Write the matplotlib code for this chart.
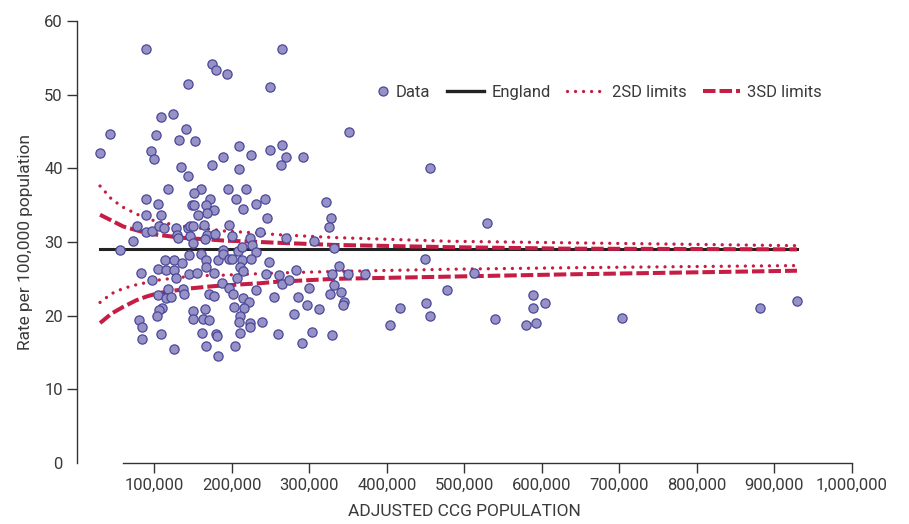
import numpy as np
import matplotlib
matplotlib.use("Agg")
import matplotlib.pyplot as plt
from matplotlib.lines import Line2D
from matplotlib.legend_handler import HandlerLine2D
from matplotlib.ticker import FuncFormatter

plt.rcParams['font.family'] = ['Roboto', 'DejaVu Sans']

# CCG populations (thousands) and rates per 100,000
ccg_pop_k = [
    89, 174, 180, 144, 108.6, 124.5, 140.5, 42.4, 102.6, 131.4, 152.9, 30, 96, 99, 134, 144,
    174.4, 117.6, 89.7, 104.7, 159.8, 150.8, 172.2, 148.6, 150.8, 166.3, 177, 167.6, 89.7,
    108.6, 156.7,
    265, 193.4, 248.8, 209, 189, 224.7, 248.8, 264.7, 269.9, 263.4, 291.4, 209, 195.4, 218.3,
    205.8, 242.8, 231.6, 214.8, 321.9, 245, 328,
    351.5, 455.7, 529.5, 325.3, 331.8, 449, 338.2, 328.8, 350.2, 371.8, 512.4, 331.8, 340.8,
    326.6, 478, 344.7, 343.8, 450, 589, 604, 589, 416.5, 455.6, 540, 404, 579.5, 592, 328.8,
    703, 881, 928.7,
    77.2, 89.3, 96.6, 106, 112.5, 127.6, 128.9, 131, 143, 146, 150.3, 163.7, 167.6, 165.4, 146,
    149.5, 72.9, 55.3, 160.2, 166.3, 166.7, 144.3, 113.8, 125.8, 135.3, 105.1, 115.1, 125.8,
    128, 83.2, 96.6, 144.7, 155.4, 177, 182.5, 118, 105.1, 115.1, 121.5, 137.4, 138.3, 170.9,
    177.4, 109.5, 106.4, 103, 79.8, 83.7, 83.7, 108.2, 149.5, 150.3, 165.4, 163.2, 170.9, 161.1,
    179.2, 180.5, 166.7, 125.4, 182.5,
    196.3, 199.8, 178.3, 223.4, 236.3, 269.9, 306.4, 189, 189, 207.6, 213.5, 226.4, 231.2,
    196.3, 199.8, 213.5, 224.7, 247.9, 210.5, 214.8, 244, 261.2, 282.8, 207, 186.9, 196.3,
    264.3, 274.1, 230.8, 201.1, 299.5, 214, 222.5, 215.7, 203.2, 254, 285.8, 297.4, 312.8,
    210.5, 209.2, 223.4, 223.4, 238.5, 280.6, 210.5, 259.9, 303, 204, 290,
]
ccg_rate = [
    56.2, 54.1, 53.4, 51.4, 47.0, 47.4, 45.3, 44.6, 44.5, 43.8, 43.7, 42.1, 42.4, 41.3, 40.2, 39.0,
    40.5, 37.2, 35.8, 35.2, 37.2, 36.6, 35.8, 35.0, 35.0, 35.0, 34.3, 34.0, 33.7,
    33.6, 33.6,
    56.2, 52.8, 51.0, 43.0, 41.5, 41.8, 42.5, 43.2, 41.5, 40.5, 41.5, 39.9, 37.2, 37.2,
    35.8, 35.9, 35.2, 34.5, 35.4, 33.2, 33.2,
    45.0, 40.1, 32.6, 32.0, 29.2, 27.7, 26.8, 25.7, 25.7, 25.7, 25.8, 24.1, 23.2,
    23.0, 23.5, 21.9, 21.4, 21.7, 22.8, 21.7, 21.0, 21.0, 20.0, 19.6, 18.7, 18.7, 19.0, 17.4,
    19.7, 21.0, 22.0,
    32.2, 31.4, 31.5, 32.2, 31.9, 31.9, 31.0, 30.5, 31.9, 32.2, 32.2, 32.3, 30.9, 30.4, 30.8,
    29.9, 30.2, 28.9, 28.4, 27.5, 26.6, 28.2, 27.6, 27.6, 27.1, 26.4, 26.2, 26.2,
    25.1, 25.8, 24.9, 25.6, 25.8, 25.8, 27.6, 23.6, 22.8, 22.4, 22.5, 23.6, 22.9, 22.9,
    22.7, 21.1, 20.8, 19.9, 19.4, 18.4, 16.8, 17.5, 20.7, 19.5, 20.9, 19.6, 19.4, 17.6,
    17.5, 17.2, 15.9, 15.5, 14.5,
    32.3, 30.8, 31.1, 30.5, 31.3, 30.5, 30.2, 28.9, 28.4, 28.8, 29.3, 29.6, 28.7,
    27.7, 27.7, 27.6, 27.7, 27.3, 26.6, 26.1, 25.7, 25.5, 26.2, 25.1, 24.4, 23.8,
    24.3, 24.8, 23.5, 22.9, 23.7, 22.4, 21.8, 21.1, 21.2, 22.6, 22.6, 21.4, 20.9,
    20.0, 19.2, 19.0, 18.5, 19.2, 20.2, 17.6, 17.5, 17.8, 15.9, 16.3,
]

# England average and funnel limits (read at these populations, thousands)
england_pop_k = [30, 929]
england_rate = [29.0, 29.0]
limit_pop_k = [30, 45, 60, 77, 90, 103, 118, 133, 146, 176, 189, 236, 258, 333, 481, 629, 929]
upper_2sd = [37.6, 35.8, 34.7, 33.8, 33.2, 32.8, 32.5, 32.2, 32.0, 31.7, 31.5, 31.2, 31.0, 30.6, 30.1, 29.9, 29.5]
lower_2sd = [21.8, 23.0, 23.7, 24.2, 24.5, 24.8, 25.0, 25.2, 25.3, 25.5, 25.5, 25.7, 25.8, 26.0, 26.3, 26.5, 26.8]
upper_3sd = [33.7, 32.9, 32.1, 31.6, 31.2, 31.0, 30.8, 30.6, 30.5, 30.3, 30.2, 30.0, 29.9, 29.6, 29.3, 29.1, 29.0]
lower_3sd = [19.0, 20.3, 21.2, 22.1, 22.6, 23.0, 23.3, 23.5, 23.7, 24.0, 24.1, 24.4, 24.6, 25.0, 25.3, 25.6, 26.1]

xticks = [100000, 200000, 300000, 400000, 500000, 600000, 700000, 800000, 900000, 1000000]
yticks = [0, 10, 20, 30, 40, 50, 60]

RED = '#c51d43'
FILL = '#9692c6'
EDGE = '#4b4799'
TXT = '#3a3a3a'


class MarkerRight(HandlerLine2D):
    '''legend marker sits near the text instead of centred in the handle box'''
    def create_artists(self, legend, orig_handle, xdescent, ydescent, width, height, fontsize, trans):
        arts = super().create_artists(legend, orig_handle, xdescent, ydescent, width, height, fontsize, trans)
        x = width - xdescent - 4
        for a in arts:
            a.set_xdata([x - 1, x, x + 1])
        return arts


pop = np.array(ccg_pop_k) * 1000
lim_x = np.array(limit_pop_k) * 1000

fig = plt.figure(figsize=(9.09, 5.24), dpi=100)
ax = fig.add_axes([76.8 / 909, 1 - 463 / 524, (852 - 76.8) / 909, (463 - 21) / 524])

dotted = (0, (0.01, 2.4))
dashed = (0, (3.1, 1.0))
ax.plot(np.array(england_pop_k) * 1000, england_rate, color='#222222', lw=2.2, zorder=2)
ax.plot(lim_x, upper_2sd, color=RED, lw=2.4, ls=dotted, dash_capstyle='round', zorder=3)
ax.plot(lim_x, lower_2sd, color=RED, lw=2.4, ls=dotted, dash_capstyle='round', zorder=3)
ax.plot(lim_x, upper_3sd, color=RED, lw=2.9, ls=dashed, zorder=3)
ax.plot(lim_x, lower_3sd, color=RED, lw=2.9, ls=dashed, zorder=3)
ax.scatter(pop, ccg_rate, s=44, facecolor=FILL, edgecolor=EDGE, linewidth=0.9, zorder=4)

ax.set_xlim(0, 1000000)
ax.set_ylim(0, 60)
ax.set_xticks(xticks)
ax.set_yticks(yticks)
ax.xaxis.set_major_formatter(FuncFormatter(lambda v, p: '{:,.0f}'.format(v)))
for s in ['top', 'right']:
    ax.spines[s].set_visible(False)
for s in ['left', 'bottom']:
    ax.spines[s].set_color('#333333')
    ax.spines[s].set_linewidth(1.0)
ax.spines['bottom'].set_bounds(60000, 1000000)
ax.tick_params(axis='both', colors='#333333', labelcolor=TXT, labelsize=12, length=7, width=1.0)
ax.tick_params(axis='x', pad=4)
ax.tick_params(axis='y', pad=3)
ax.yaxis.get_major_ticks()[0].tick1line.set_visible(False)

ax.set_ylabel('Rate per 100,000 population', fontsize=12.5, color=TXT, labelpad=8)
ax.set_xlabel('ADJUSTED CCG POPULATION', fontsize=12.5, color=TXT, labelpad=8)

data_handle = Line2D([], [], ls='none', marker='o', markersize=6.5, markerfacecolor=FILL,
                     markeredgecolor=EDGE, markeredgewidth=0.9)
handles = [
    data_handle,
    Line2D([], [], color='#222222', lw=2.4),
    Line2D([], [], color=RED, lw=2.4, ls=dotted, dash_capstyle='round'),
    Line2D([], [], color=RED, lw=2.9, ls=dashed),
]
leg = ax.legend(handles, ['Data', 'England', '2SD limits', '3SD limits'], ncol=4,
                loc='center', bbox_to_anchor=(0.658, 0.838), frameon=False,
                fontsize=12, handlelength=2.2, handletextpad=0.45, columnspacing=1.0,
                handler_map={data_handle: MarkerRight()})
for t in leg.get_texts():
    t.set_color(TXT)

fig.savefig('out.png', dpi=100)
